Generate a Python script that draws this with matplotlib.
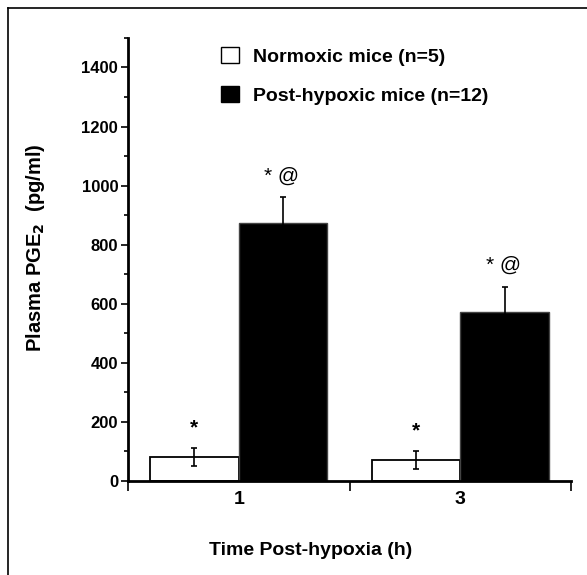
import matplotlib
matplotlib.use('Agg')
import matplotlib.pyplot as plt
import numpy as np
from matplotlib.patches import Patch
from matplotlib.lines import Line2D

plt.rcParams['font.family'] = ['Liberation Sans', 'DejaVu Sans']

# data
time_labels = ['1', '3']
group_pos = np.array([1, 3])
normoxic = [82, 71]
normoxic_err = [30, 29]
hypoxic = [872, 572]
hypoxic_err = [89, 86]
normoxic_marks = ['*', '*']
hypoxic_marks = ['* @', '* @']

fig = plt.figure(figsize=(5.87, 5.75), dpi=100)
ax = fig.add_axes([0.218, 0.1635, 0.755, 0.7705])

w = 0.8
ax.bar(group_pos - w / 2, normoxic, width=w, color='white', edgecolor='black',
       linewidth=1.3, yerr=normoxic_err, capsize=2.5,
       error_kw=dict(elinewidth=1.2, capthick=1.2, ecolor='black'))
ax.bar(group_pos + w / 2, hypoxic, width=w, color='black', edgecolor='#444444',
       linewidth=1.0, yerr=hypoxic_err, capsize=2.0,
       error_kw=dict(elinewidth=1.2, capthick=1.2, ecolor='black'))

# significance marks
for x, y, e, m in zip(group_pos - w / 2, normoxic, normoxic_err, normoxic_marks):
    ax.text(x, y + e + 68, m, ha='center', va='center', fontsize=15, fontweight='bold')
for x, y, e, m in zip(group_pos + w / 2, hypoxic, hypoxic_err, hypoxic_marks):
    ax.text(x - 0.01, y + e + 72, m, ha='center', va='center', fontsize=15)

ax.set_xlim(0, 4)
ax.set_ylim(0, 1500)

ax.spines['top'].set_visible(False)
ax.spines['right'].set_visible(False)
ax.spines['left'].set_linewidth(2)
ax.spines['bottom'].set_linewidth(2)

ax.set_yticks(np.arange(0, 1401, 200))
ax.set_yticks(np.arange(0, 1501, 100), minor=True)
ax.tick_params(axis='y', which='major', length=5, width=1.2, labelsize=12, pad=2)
ax.tick_params(axis='y', which='minor', length=3, width=1.2)
for lab in ax.get_yticklabels():
    lab.set_fontweight('bold')

ax.set_xticks([0, 2, 4])
ax.set_xticklabels(['', '', ''])
ax.set_xticks(group_pos, minor=True)
ax.set_xticklabels(time_labels, minor=True, fontsize=14, fontweight='bold')
ax.tick_params(axis='x', which='major', length=7, width=1.2, direction='out')
ax.tick_params(axis='x', which='minor', length=0, pad=7)

ax.set_ylabel('Plasma PGE$_\\mathbf{2}$  (pg/ml)', fontsize=14.5, fontweight='bold')
ax.yaxis.set_label_coords(-0.183, 0.526)
ax.set_xlabel('Time Post-hypoxia (h)', fontsize=14, fontweight='bold')
ax.xaxis.set_label_coords(0.413, -0.137)

handles = [Patch(facecolor='white', edgecolor='black', linewidth=1.0),
           Patch(facecolor='black', edgecolor='black')]
fig.legend(handles, ['Normoxic mice (n=5)', 'Post-hypoxic mice (n=12)'],
           loc='upper left', bbox_to_anchor=(221 / 587, 1 - 47 / 575), frameon=False,
           prop=dict(size=14, weight='bold'), handlelength=0.9, handleheight=0.9,
           handletextpad=0.75, labelspacing=1.05, borderpad=0, borderaxespad=0)

# outer frame
fig.add_artist(Line2D([8 / 587, 1], [1 - 8 / 575, 1 - 8 / 575], color='black', linewidth=1.2))
fig.add_artist(Line2D([8 / 587, 8 / 587], [0, 1 - 8 / 575], color='black', linewidth=1.2))

fig.savefig('out.png', dpi=100)
